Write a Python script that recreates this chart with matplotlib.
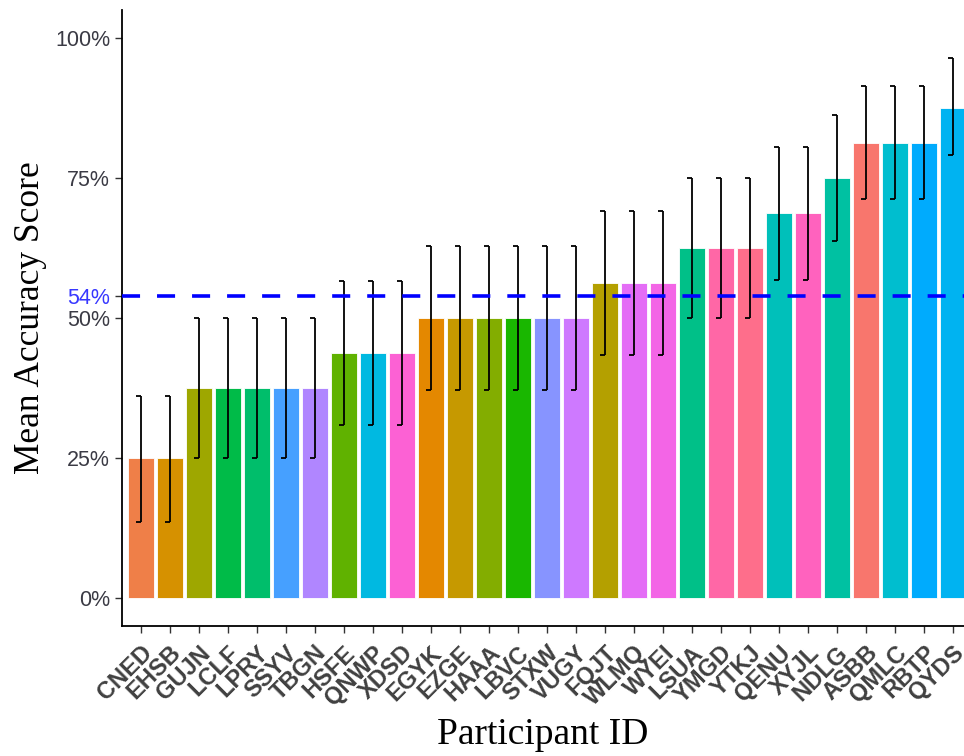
import numpy as np
import matplotlib
matplotlib.use("Agg")
import matplotlib.pyplot as plt

participants = ["CNED", "EHSB", "GUJN", "LCLF", "LPRY", "SSYV", "TBGN", "HSFE",
                "QNWP", "XDSD", "EGYK", "EZGE", "HAAA", "LBVC", "STXW", "VUGY",
                "FQJT", "WLMQ", "WYEI", "LSUA", "YMGD", "YTKJ", "QENU", "XYJL",
                "NDLG", "ASBB", "QMLC", "RBTP", "QYDS"]
accuracy = [25, 25, 37.5, 37.5, 37.5, 37.5, 37.5, 43.75, 43.75, 43.75,
            50, 50, 50, 50, 50, 50, 56.25, 56.25, 56.25, 62.5, 62.5, 62.5,
            68.75, 68.75, 75, 81.25, 81.25, 81.25, 87.5]
err_low = [13.6, 13.6, 25, 25, 25, 25, 25, 30.9, 30.9, 30.9,
           37.1, 37.1, 37.1, 37.1, 37.1, 37.1, 43.4, 43.4, 43.4, 50, 50, 50,
           56.8, 56.8, 63.7, 71.2, 71.2, 71.2, 79.1]
err_high = [36.1, 36.1, 50, 50, 50, 50, 50, 56.6, 56.6, 56.6,
            62.9, 62.9, 62.9, 62.9, 62.9, 62.9, 69.1, 69.1, 69.1, 75, 75, 75,
            80.6, 80.6, 86.3, 91.4, 91.4, 91.4, 96.4]
chance = 54


def hue_pal(n):
    # ggplot2 default hue palette (hcl, c=100, l=65)
    h = np.radians(np.linspace(15, 375, n + 1)[:n])
    L, C = 65.0, 100.0
    U, V = C * np.cos(h), C * np.sin(h)
    Xn, Yn, Zn = 95.047, 100.0, 108.883
    un = 4 * Xn / (Xn + 15 * Yn + 3 * Zn)
    vn = 9 * Yn / (Xn + 15 * Yn + 3 * Zn)
    Y = Yn * ((L + 16) / 116) ** 3
    u = U / (13 * L) + un
    v = V / (13 * L) + vn
    X = 9 * Y * u / (4 * v)
    Z = -X / 3 - 5 * Y + 3 * Y / v
    X, Y, Z = X / 100, Y / 100, Z / 100
    R = 3.240479 * X - 1.537150 * Y - 0.498535 * Z
    G = -0.969256 * X + 1.875992 * Y + 0.041556 * Z
    B = 0.055648 * X - 0.204043 * Y + 1.057311 * Z
    rgb = np.stack([R, G, B], axis=1)
    rgb = np.where(rgb <= 0.0031308, 12.92 * rgb, 1.055 * np.abs(rgb) ** (1 / 2.4) - 0.055)
    return np.clip(rgb, 0, 1)


# colours follow alphabetical order of the IDs, as ggplot does
levels = sorted(participants)
pal = hue_pal(len(levels))
colors = [pal[levels.index(p)] for p in participants]

fig = plt.figure(figsize=(9.64, 7.56), dpi=100)
ax = fig.add_axes([122 / 964, 1 - 626 / 756, 1 - 122 / 964, (626 - 10) / 756])

x = np.arange(len(participants))
ax.bar(x, accuracy, width=0.9, color=colors, edgecolor="white", linewidth=0.6, zorder=2)
ax.vlines(x + 0.02, err_low, err_high, color="black", linewidth=1.3, zorder=3)
ax.hlines(err_low, x - 0.17, x + 0.02, color="black", linewidth=1.3, zorder=3)
ax.hlines(err_high, x - 0.17, x + 0.02, color="black", linewidth=1.3, zorder=3)
ax.axhline(chance, color="#0000FF", linestyle=(0, (5, 4.7)), linewidth=2.6, zorder=4)

ax.set_xlim(-0.64, 28.39)
ax.set_ylim(-5, 105)
ax.set_xticks(x)
ax.set_xticklabels(participants, rotation=45, ha="right", rotation_mode="anchor",
                   fontsize=17, fontweight="bold", color="#404040", family="Liberation Sans")
yt = [0, 25, 50, chance, 75, 100]
ax.set_yticks(yt)
ax.set_yticklabels([f"{t}%" for t in yt], fontsize=15.5, color="#3A3A44", family="Liberation Sans")
ax.get_yticklabels()[yt.index(chance)].set_color("#3838FF")
ax.tick_params(axis="both", length=5, width=1, color="#333333")
ax.tick_params(axis="x", pad=6)

for side in ["top", "right"]:
    ax.spines[side].set_visible(False)
for side in ["left", "bottom"]:
    ax.spines[side].set_linewidth(1.3)
    ax.spines[side].set_color("black")

ax.set_ylabel("Mean Accuracy Score", fontsize=25.5, family="Liberation Serif", labelpad=6)
ax.set_xlabel("Participant ID", fontsize=27, family="Liberation Serif", labelpad=5)

fig.savefig("out.png", dpi=100)
